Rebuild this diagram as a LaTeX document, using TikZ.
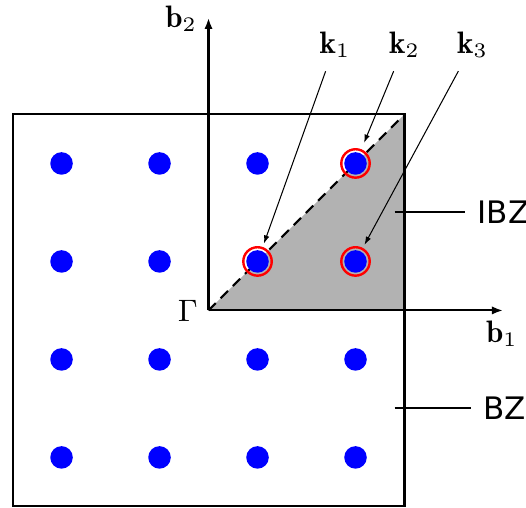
\documentclass[tikz,border=0pt]{standalone}
\usepackage{amsmath}
\usepackage{fontspec}
\newfontfamily\zonefont{DejaVu Sans}
\usetikzlibrary{arrows.meta}

\begin{document}
\begin{tikzpicture}[scale=1,font=\fontsize{9}{11}\selectfont,
  kdot/.style={circle,fill=blue,inner sep=0pt,minimum size=0.23cm},
  kring/.style={circle,draw=red,line width=0.7pt,inner sep=0pt,minimum size=0.29cm},
  axis/.style={line width=0.6pt,-{Latex[length=3.2pt,width=2.4pt]}},
  pointer/.style={line width=0.3pt,-{Latex[length=2.4pt,width=1.6pt]},shorten <=0.5pt,shorten >=1pt},
  zone/.style={font=\zonefont\fontsize{9}{11}\selectfont}]
\useasboundingbox (-2.128,-2.015) rectangle (3.240,3.168);
% irreducible wedge and zone boundary
\fill[gray!60] (0,0) -- (2,0) -- (2,2) -- cycle;
\draw[line width=0.6pt,dash pattern=on 3pt off 2pt] (0,0) -- (2,2);
\draw[line width=0.6pt] (-2,-2) rectangle (2,2);
% reciprocal axes
\coordinate (gam) at (0,0);
\coordinate (b1end) at (3.005,0);
\coordinate (b2end) at (0,2.985);
\draw[axis] (gam) -- (b1end);
\draw[axis] (gam) -- (b2end);
\node[anchor=base] (b1) at (2.995,-0.332) {\(\mathbf{b}_1\)};
\node[anchor=base] (b2) at (-0.28,2.883) {\(\mathbf{b}_2\)};
\node[anchor=base] (G) at (-0.21,-0.114) {\(\Gamma\)};
% k-point grid
\foreach \i in {-1.5,-0.5,0.5,1.5}
  \foreach \j in {-1.5,-0.5,0.5,1.5}
    \node[kdot] at (\i,\j) {};
\node[kring] (c1) at (0.5,0.5) {};
\node[kring] (c2) at (1.5,1.5) {};
\node[kring] (c3) at (1.5,0.5) {};
\node[anchor=base] (k1) at (1.291,2.617) {\(\mathbf{k}_1\)};
\node[anchor=base] (k2) at (2.0,2.617) {\(\mathbf{k}_2\)};
\node[anchor=base] (k3) at (2.694,2.617) {\(\mathbf{k}_3\)};
\draw[pointer] (k1) -- (c1);
\draw[pointer,shorten >=2pt] (k2) -- (c2);
\draw[pointer] (k3) -- (c3);
% zone labels
\coordinate (ibzfoot) at (1.9,1.0);
\coordinate (bzfoot) at (1.9,-1.0);
\node[zone] (ibz) at (3.01,1.0) {IBZ};
\node[zone] (bz) at (3.02,-1.0) {BZ};
\draw[line width=0.6pt] (ibzfoot) -- (ibz);
\draw[line width=0.6pt] (bzfoot) -- (bz);
\end{tikzpicture}
\end{document}
